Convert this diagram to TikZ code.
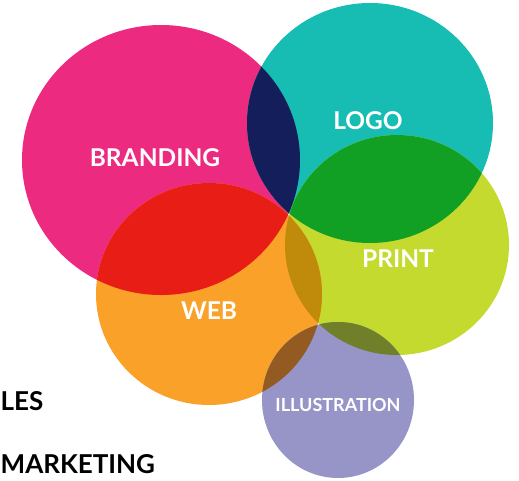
\documentclass[tikz,border=0pt]{standalone}
\usepackage{fontspec}
\setmainfont{Lato}
\definecolor{cbrand}{HTML}{EC2A80}
\definecolor{clogo}{HTML}{17BDB3}
\definecolor{cprint}{HTML}{C4DA2F}
\definecolor{cweb}{HTML}{FAA12A}
\definecolor{cill}{HTML}{9794C8}
\definecolor{cBL}{HTML}{141E5B}
\definecolor{cBW}{HTML}{E71D16}
\definecolor{cLP}{HTML}{11A023}
\definecolor{cWP}{HTML}{C08A0B}
\definecolor{cWI}{HTML}{935B21}
\definecolor{cPI}{HTML}{6F7F2A}
\tikzset{
  lbl/.style={text=white,font=\bfseries\fontsize{24.5}{24.5}\selectfont,inner sep=0pt},
  side/.style={text=black,font=\bfseries\fontsize{26}{26}\selectfont,inner sep=0pt,anchor=west},
}
\newcommand{\eB}{(161,160) ellipse [x radius=139,y radius=135]}
\newcommand{\eL}{(370,123) ellipse [x radius=123,y radius=120]}
\newcommand{\eP}{(397,245) ellipse [x radius=112,y radius=110]}
\newcommand{\eW}{(209,294) ellipse [x radius=113,y radius=111]}
\newcommand{\eI}{(338,400) ellipse [x radius=76,y radius=78]}
\begin{document}
\begin{tikzpicture}[x=1pt,y=-1pt]
\useasboundingbox (0,0) rectangle (519,480);
\begin{scope}
\clip (0,0) rectangle (519,480);
\fill[cbrand] \eB;
\fill[clogo] \eL;
\fill[cprint] \eP;
\fill[cweb] \eW;
\fill[cill] \eI;
\begin{scope}\clip \eB; \fill[cBL] \eL;\end{scope}
\begin{scope}\clip \eB; \fill[cBW] \eW;\end{scope}
\begin{scope}\clip \eL; \fill[cLP] \eP;\end{scope}
\begin{scope}\clip \eW; \fill[cWP] \eP;\end{scope}
\begin{scope}\clip \eW; \fill[cWI] \eI;\end{scope}
\begin{scope}\clip \eP; \fill[cPI] \eI;\end{scope}
\end{scope}
\node[side] (les) at (0.5,401) {LES};
\node[side] (mkt) at (0.5,464) {MARKETING};
\node[lbl] (branding) at (155,158) {BRANDING};
\node[lbl] (logo) at (368,121) {LOGO};
\node[lbl] (print) at (398,259) {PRINT};
\node[lbl] (web) at (209,311) {WEB};
\node[lbl,font=\bfseries\fontsize{18}{18}\selectfont] (ill) at (338,405) {ILLUSTRATION};
\end{tikzpicture}
\end{document}
